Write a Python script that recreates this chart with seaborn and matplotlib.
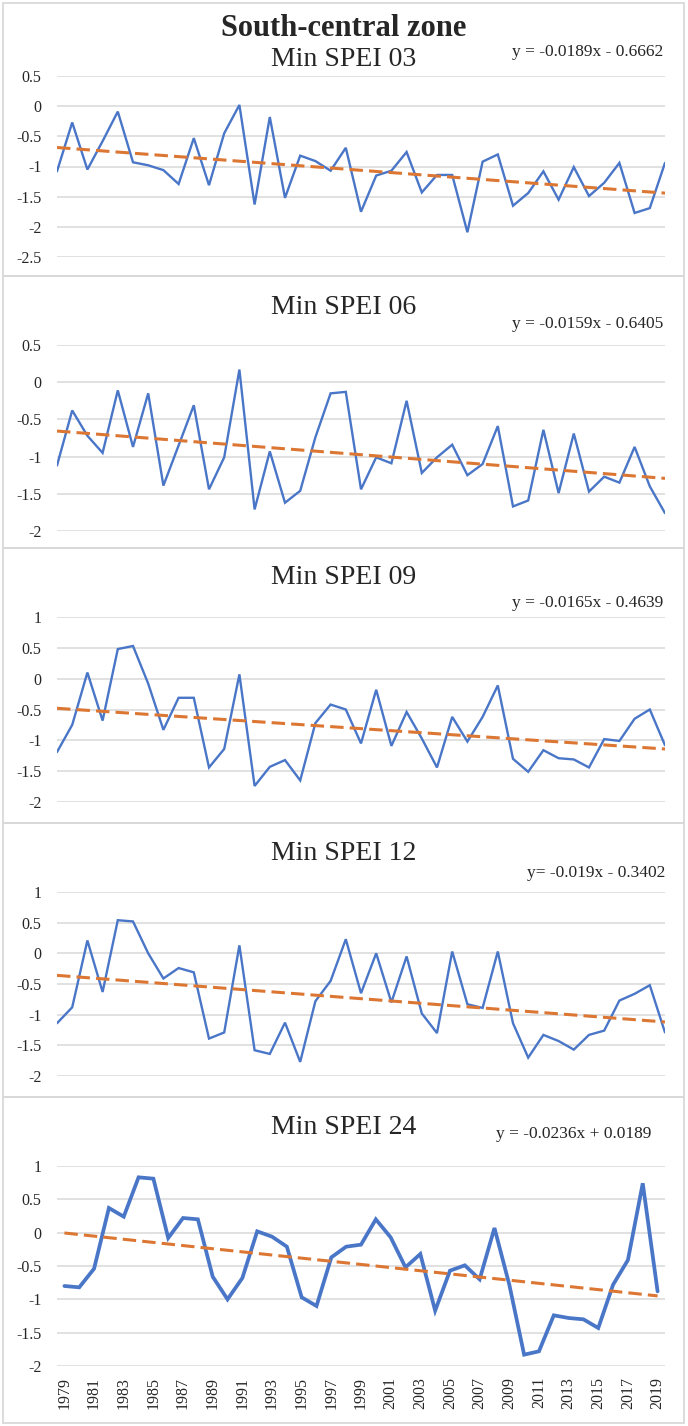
import numpy as np
import pandas as pd
import matplotlib
matplotlib.use("Agg")
import matplotlib.pyplot as plt
import seaborn as sns
from matplotlib.patches import Rectangle

# ---------------- data ----------------
years = list(range(1979, 2020))

spei03 = [-1.08, -0.27, -1.05, -0.58, -0.09, -0.93, -0.98, -1.06, -1.29, -0.53,
          -1.31, -0.45, 0.02, -1.63, -0.18, -1.52, -0.82, -0.91, -1.07, -0.69,
          -1.75, -1.15, -1.07, -0.76, -1.43, -1.14, -1.14, -2.09, -0.92, -0.80,
          -1.65, -1.44, -1.08, -1.55, -1.01, -1.49, -1.27, -0.94, -1.77, -1.69,
          -0.94]
spei06 = [-1.12, -0.38, -0.72, -0.95, -0.11, -0.87, -0.15, -1.39, -0.85, -0.31,
          -1.44, -1.01, 0.17, -1.71, -0.93, -1.62, -1.46, -0.74, -0.15, -0.13,
          -1.44, -1.01, -1.09, -0.25, -1.22, -1.01, -0.84, -1.25, -1.10, -0.59,
          -1.67, -1.59, -0.64, -1.49, -0.69, -1.47, -1.27, -1.35, -0.87, -1.40,
          -1.76]
spei09 = [-1.19, -0.75, 0.10, -0.68, 0.48, 0.53, -0.08, -0.83, -0.31, -0.31,
          -1.44, -1.14, 0.07, -1.74, -1.43, -1.32, -1.65, -0.72, -0.42, -0.50,
          -1.05, -0.18, -1.09, -0.54, -0.97, -1.44, -0.62, -1.02, -0.62, -0.11,
          -1.30, -1.51, -1.16, -1.29, -1.31, -1.44, -0.98, -1.01, -0.65, -0.50,
          -1.08]
spei12 = [-1.14, -0.88, 0.21, -0.63, 0.54, 0.52, 0.00, -0.41, -0.24, -0.31,
          -1.39, -1.29, 0.13, -1.58, -1.64, -1.13, -1.77, -0.78, -0.45, 0.23,
          -0.65, 0.00, -0.80, -0.05, -0.98, -1.30, 0.03, -0.83, -0.89, 0.03,
          -1.14, -1.70, -1.33, -1.43, -1.57, -1.33, -1.26, -0.77, -0.66, -0.52,
          -1.29]
spei24 = [-0.80, -0.82, -0.54, 0.37, 0.24, 0.83, 0.81, -0.08, 0.22, 0.20,
          -0.66, -1.00, -0.68, 0.02, -0.06, -0.21, -0.97, -1.10, -0.37, -0.21,
          -0.18, 0.20, -0.07, -0.52, -0.32, -1.17, -0.57, -0.49, -0.70, 0.07,
          -0.78, -1.83, -1.78, -1.24, -1.28, -1.30, -1.43, -0.78, -0.41, 0.74,
          -0.88]

series = [spei03, spei06, spei09, spei12, spei24]
titles = ["Min SPEI 03", "Min SPEI 06", "Min SPEI 09", "Min SPEI 12", "Min SPEI 24"]
slopes = [-0.0189, -0.0159, -0.0165, -0.019, -0.0236]
intercepts = [-0.6662, -0.6405, -0.4639, -0.3402, 0.0189]
equations = ["y = -0.0189x - 0.6662", "y = -0.0159x - 0.6405",
             "y = -0.0165x - 0.4639", "y= -0.019x - 0.3402",
             "y = -0.0236x + 0.0189"]
ylims = [(-2.5, 0.5), (-2.0, 0.5), (-2.0, 1.0), (-2.0, 1.0), (-2.0, 1.0)]
suptitle = "South-central zone"

# ---------------- style ----------------
sns.set_theme(style="white")
plt.rcParams['font.family'] = ['Liberation Serif', 'DejaVu Serif']
plt.rcParams['axes.unicode_minus'] = False

W, H = 688, 1426
fig = plt.figure(figsize=(W / 100, H / 100), dpi=100)

BLUE = '#4A76C8'
ORANGE = '#DC7633'
GRID = '#D9D9D9'

# layout in pixels (top, bottom) of each plot area
ax_px = [(76, 257), (345, 531), (617, 802), (892, 1076), (1166, 1366)]
left_px, right_px = 57, 665
title_y = [60, 308, 578, 854, 1128]
eq_pos = [(663, 52), (663, 324), (663, 603), (665, 873), (651, 1134)]
boxes = [(3, 276), (276, 548), (548, 823), (823, 1097), (1097, 1423)]

for (t, b) in boxes:
    fig.add_artist(Rectangle((3 / W, 1 - b / H), (684 - 3) / W, (b - t) / H,
                             transform=fig.transFigure, fill=False,
                             edgecolor=GRID, lw=1.3))

fig.text(344 / W, 1 - 28 / H, suptitle, ha='center', va='center',
         fontsize=22, fontweight='bold')

n = len(years)
idx = np.arange(1, n + 1)

for i, vals in enumerate(series):
    t, b = ax_px[i]
    ax = fig.add_axes([left_px / W, 1 - b / H, (right_px - left_px) / W, (b - t) / H])
    df = pd.DataFrame({'x': idx, 'y': vals})
    lw = 2.7 if i == 4 else 1.7
    sns.lineplot(data=df, x='x', y='y', ax=ax, color=BLUE, lw=lw,
                 errorbar=None, solid_joinstyle='miter')
    trend = pd.DataFrame({'x': idx, 'y': slopes[i] * idx + intercepts[i]})
    sns.lineplot(data=trend, x='x', y='y', ax=ax, color=ORANGE, lw=2.2,
                 errorbar=None)
    ax.lines[-1].set_dashes((4.4, 2.0))

    lo, hi = ylims[i]
    ax.set_ylim(lo, hi)
    yt = np.arange(lo, hi + 0.001, 0.5)
    ax.set_yticks(yt)
    ax.set_yticklabels(['%g' % v for v in yt])
    ax.yaxis.grid(True, color=GRID, lw=1.1)
    ax.xaxis.grid(False)
    ax.set_axisbelow(True)
    for s in ax.spines.values():
        s.set_visible(False)
    ax.tick_params(axis='y', length=0, pad=11, labelsize=11.5)
    ax.set_xlabel('')
    ax.set_ylabel('')

    if i < 4:
        ax.set_xlim(1, n)
        ax.set_xticks([])
    else:
        ax.set_xlim(0.5, n + 0.5)
        ax.set_xticks(idx[::2])
        ax.set_xticklabels([str(y) for y in years[::2]], rotation=90)
        ax.tick_params(axis='x', length=0, pad=8, labelsize=11.5)

    fig.text(344 / W, 1 - title_y[i] / H, titles[i], ha='center', va='center',
             fontsize=20)
    ex, ey = eq_pos[i]
    fig.text(ex / W, 1 - ey / H, equations[i], ha='right', va='center',
             fontsize=12.5)

fig.savefig('out.png', dpi=100)
